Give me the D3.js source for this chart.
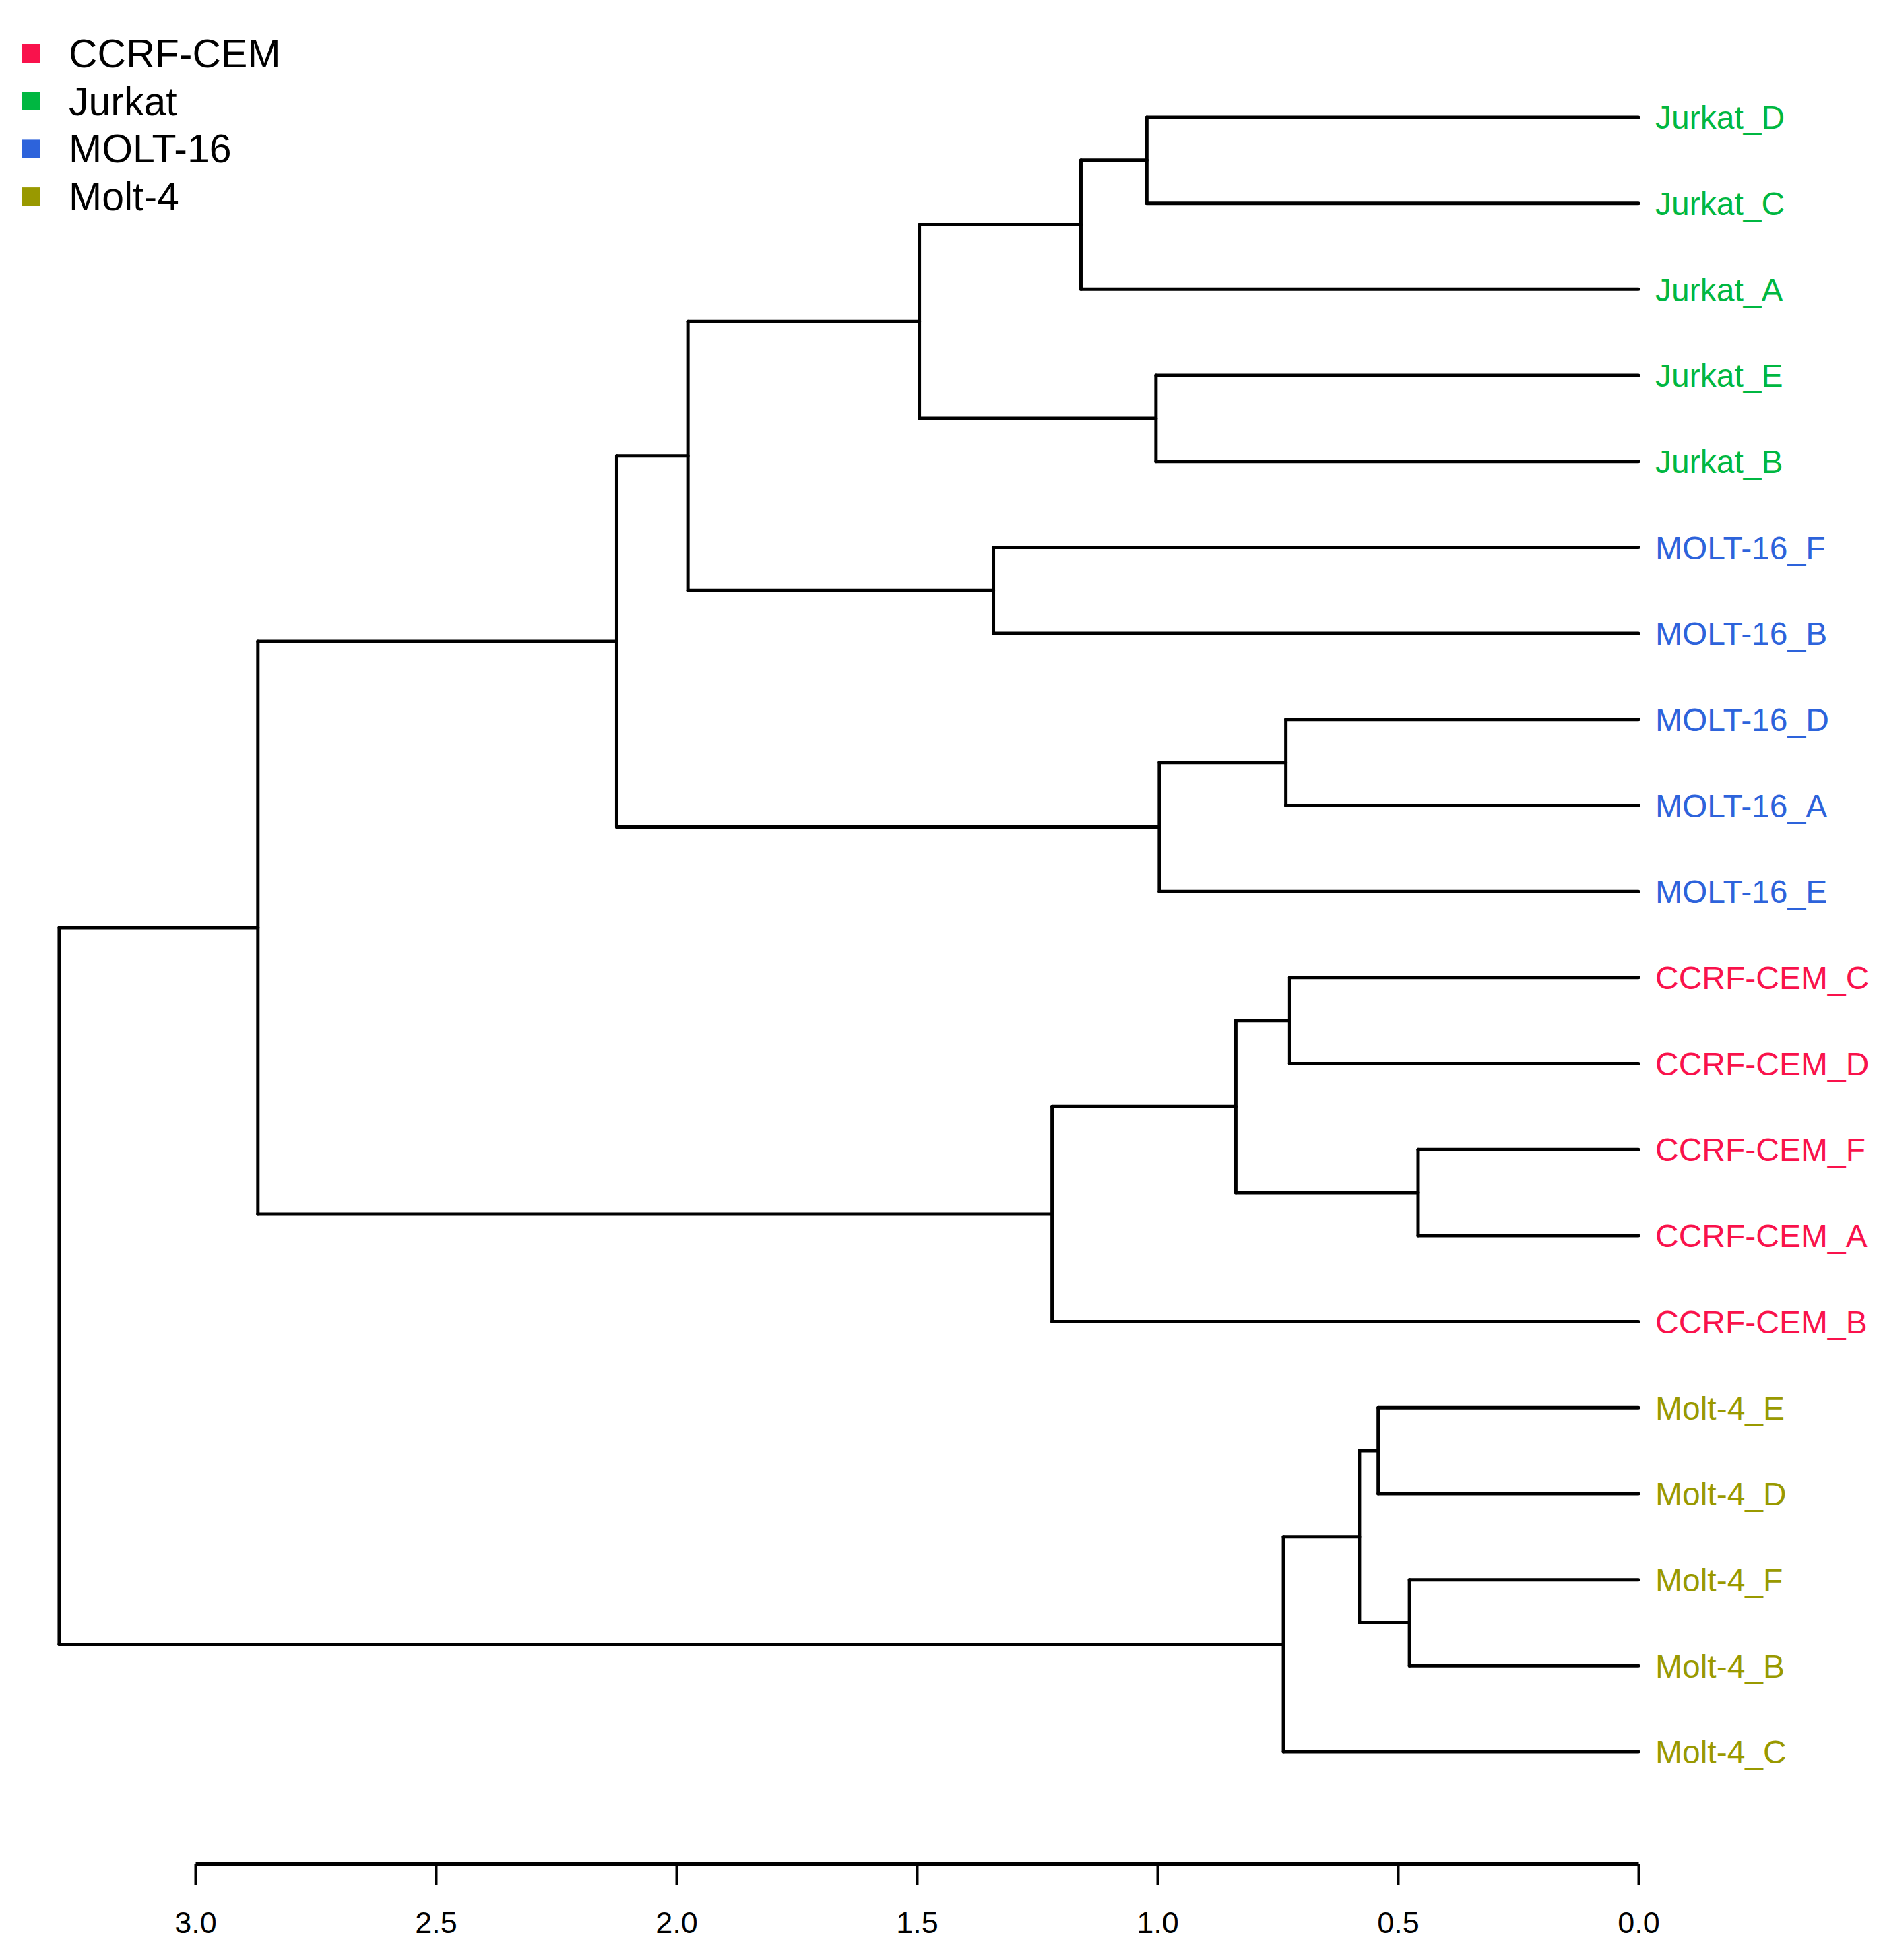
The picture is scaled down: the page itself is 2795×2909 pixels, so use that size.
<!DOCTYPE html>
<html>
<head>
<meta charset="utf-8">
<script src="https://cdn.jsdelivr.net/npm/d3@7"></script>
<style>
  body { margin: 0; background: #fff; }
  text { font-family: "Liberation Sans", Arial, sans-serif; }
</style>
</head>
<body>
<svg id="chart" width="2795" height="2909"></svg>
<script>
// leaf order, top to bottom
var leaves = [
  "Jurkat_D", "Jurkat_C", "Jurkat_A", "Jurkat_E", "Jurkat_B",
  "MOLT-16_F", "MOLT-16_B", "MOLT-16_D", "MOLT-16_A", "MOLT-16_E",
  "CCRF-CEM_C", "CCRF-CEM_D", "CCRF-CEM_F", "CCRF-CEM_A", "CCRF-CEM_B",
  "Molt-4_E", "Molt-4_D", "Molt-4_F", "Molt-4_B", "Molt-4_C"
];

// merges: [left, right, height]; merge k is named "n" + (k + 1)
var merges = [
  ["Jurkat_D", "Jurkat_C", 1.022],
  ["n1", "Jurkat_A", 1.159],
  ["Jurkat_E", "Jurkat_B", 1.003],
  ["n2", "n3", 1.495],
  ["MOLT-16_F", "MOLT-16_B", 1.341],
  ["n4", "n5", 1.976],
  ["MOLT-16_D", "MOLT-16_A", 0.733],
  ["n7", "MOLT-16_E", 0.996],
  ["n6", "n8", 2.124],
  ["CCRF-CEM_C", "CCRF-CEM_D", 0.725],
  ["CCRF-CEM_F", "CCRF-CEM_A", 0.458],
  ["n10", "n11", 0.837],
  ["n12", "CCRF-CEM_B", 1.219],
  ["n9", "n13", 2.870],
  ["Molt-4_E", "Molt-4_D", 0.541],
  ["Molt-4_F", "Molt-4_B", 0.476],
  ["n15", "n16", 0.580],
  ["n17", "Molt-4_C", 0.738],
  ["n14", "n18", 3.283]
];

var groups = ["CCRF-CEM", "Jurkat", "MOLT-16", "Molt-4"];
var groupColors = ["#f9124c", "#00b741", "#2d63db", "#999900"];
var tickValues = [3.0, 2.5, 2.0, 1.5, 1.0, 0.5, 0.0];

var color = d3.scaleOrdinal().domain(groups).range(groupColors);

// build nested tree from merges
var nodes = {};
leaves.forEach(function (name) {
  nodes[name] = { name: name, h: 0 };
});
merges.forEach(function (m, i) {
  nodes["n" + (i + 1)] = {
    name: "n" + (i + 1),
    h: m[2],
    children: [nodes[m[0]], nodes[m[1]]]
  };
});
var root = d3.hierarchy(nodes["n" + merges.length]);

var x = d3.scaleLinear().domain([3, 0]).range([290, 2432]);
var y = d3.scalePoint().domain(leaves).range([174, 2600]);

// leaves evenly spaced, parents at midpoint of children
root.eachAfter(function (d) {
  if (d.children) {
    d.py = d3.mean(d.children, (c) => c.py);
  } else {
    d.py = y(d.data.name);
  }
  d.px = x(d.data.h);
});

var svg = d3.select("#chart");

var g = svg.append("g")
  .attr("fill", "none")
  .attr("stroke", "#000")
  .attr("stroke-width", 5)
  .attr("stroke-linecap", "round");

var inner = root.descendants().filter((d) => d.children);

// vertical joins
g.selectAll("line.v")
  .data(inner)
  .enter()
  .append("line")
  .attr("class", "v")
  .attr("x1", (d) => d.px)
  .attr("x2", (d) => d.px)
  .attr("y1", (d) => d.children[0].py)
  .attr("y2", (d) => d.children[1].py);

// horizontal branches
g.selectAll("line.h")
  .data(root.descendants().filter((d) => d.parent))
  .enter()
  .append("line")
  .attr("class", "h")
  .attr("x1", (d) => d.parent.px)
  .attr("x2", (d) => d.px)
  .attr("y1", (d) => d.py)
  .attr("y2", (d) => d.py);

// leaf labels
svg.append("g")
  .selectAll("text")
  .data(root.leaves())
  .enter()
  .append("text")
  .attr("x", (d) => d.px + 25)
  .attr("y", (d) => d.py)
  .attr("dy", "0.36em")
  .style("font-size", "48px")
  .attr("fill", (d) => color(d.data.name.split("_")[0]))
  .text((d) => d.data.name);

// axis
var axis = d3.axisBottom(x)
  .tickValues(tickValues)
  .tickFormat(d3.format(".1f"))
  .tickSize(31)
  .tickSizeOuter(0)
  .tickPadding(40);

var ax = svg.append("g")
  .attr("transform", "translate(0,2766)")
  .call(axis);
ax.select(".domain").attr("stroke-width", 5).attr("stroke", "#000");
ax.selectAll(".tick line").attr("stroke-width", 4).attr("stroke", "#000");
ax.selectAll(".tick text")
  .attr("fill", "#000")
  .style("font-size", "45px")
  .style("font-family", "'Liberation Sans', Arial, sans-serif");

// legend
var leg = svg.append("g")
  .selectAll("g")
  .data(groups)
  .enter()
  .append("g")
  .attr("transform", (d, i) => "translate(0," + (100 + i * 70.7) + ")");

leg.append("rect")
  .attr("x", 33)
  .attr("y", -34)
  .attr("width", 27)
  .attr("height", 27)
  .attr("fill", (d) => color(d));

leg.append("text")
  .attr("x", 102)
  .attr("y", 0)
  .style("font-size", "59px")
  .attr("fill", "#000")
  .text((d) => d);
</script>
</body>
</html>
